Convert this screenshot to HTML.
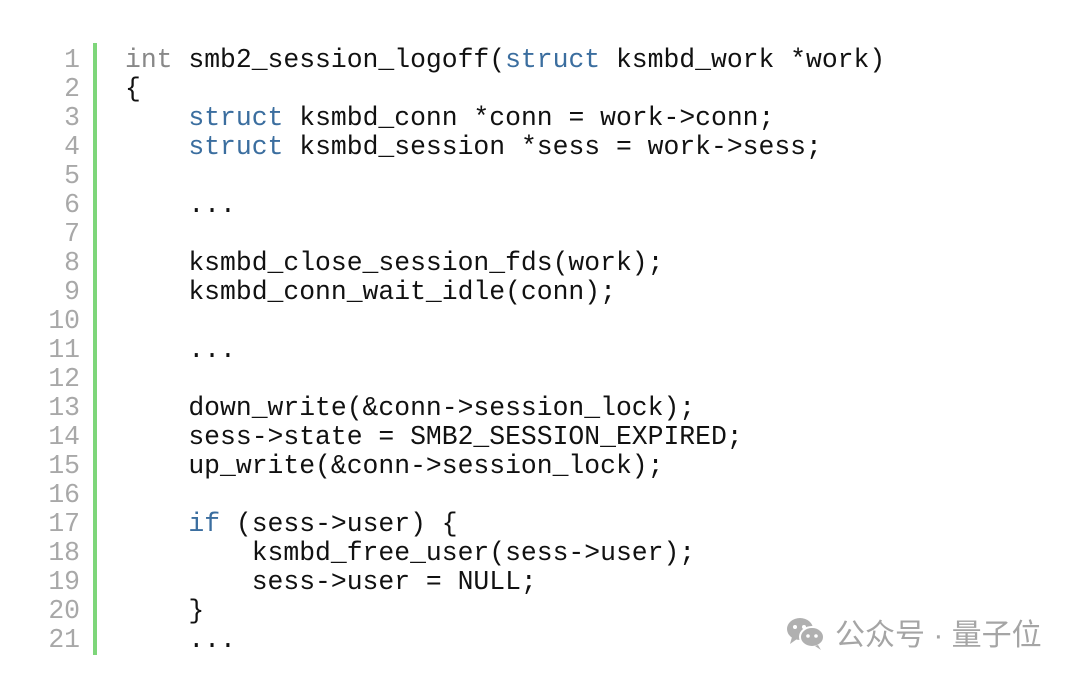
<!DOCTYPE html>
<html><head><meta charset="utf-8"><style>
body{margin:0;width:1080px;height:675px;background:#fff;overflow:hidden;position:relative;font-family:"Liberation Mono",monospace;}
.ln{position:absolute;left:0;width:80px;text-align:right;color:#a8a8a8;font-size:26.4px;line-height:29.05px;top:45.5px;}
.code{position:absolute;left:125px;top:45.5px;font-size:26.4px;line-height:29.05px;color:#111;white-space:pre;margin:0;font-family:"Liberation Mono",monospace;}
.bar{position:absolute;left:93px;top:43px;width:4px;height:612px;background:#7ed67a;}
.k{color:#3b6e9f}.g{color:#888}
.wm{position:absolute;left:785px;top:610px;font-family:"Liberation Sans","Noto Sans CJK SC",sans-serif;font-size:30px;color:#a5a5a5;white-space:nowrap;}
</style></head><body>
<div class="ln">1<br>2<br>3<br>4<br>5<br>6<br>7<br>8<br>9<br>10<br>11<br>12<br>13<br>14<br>15<br>16<br>17<br>18<br>19<br>20<br>21</div>
<div class="bar"></div>
<pre class="code"><span class="g">int</span> smb2_session_logoff(<span class="k">struct</span> ksmbd_work *work)
{
    <span class="k">struct</span> ksmbd_conn *conn = work-&gt;conn;
    <span class="k">struct</span> ksmbd_session *sess = work-&gt;sess;

    ...

    ksmbd_close_session_fds(work);
    ksmbd_conn_wait_idle(conn);

    ...

    down_write(&amp;conn-&gt;session_lock);
    sess-&gt;state = SMB2_SESSION_EXPIRED;
    up_write(&amp;conn-&gt;session_lock);

    <span class="k">if</span> (sess-&gt;user) {
        ksmbd_free_user(sess-&gt;user);
        sess-&gt;user = NULL;
    }
    ...</pre>
<div class="wm"><svg width="42" height="34" viewBox="0 0 42 34" style="vertical-align:-5px;margin-right:8px"><ellipse cx="15" cy="13" rx="13" ry="11" fill="#b0b0b0"/><path d="M7 21 L5 28 L12 23Z" fill="#b0b0b0"/><ellipse cx="27" cy="21" rx="12" ry="10" fill="#b0b0b0" stroke="#fff" stroke-width="2"/><path d="M33 29 L36 34 L30 30Z" fill="#b0b0b0"/><circle cx="10" cy="11" r="2" fill="#fff"/><circle cx="19" cy="11" r="2" fill="#fff"/><circle cx="23" cy="20" r="1.8" fill="#fff"/><circle cx="31" cy="20" r="1.8" fill="#fff"/></svg>公众号 · 量子位</div>
</body></html>
